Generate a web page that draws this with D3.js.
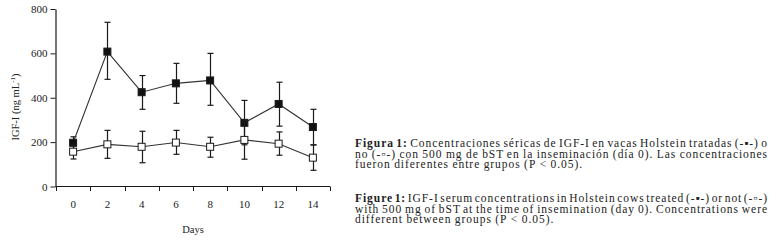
<!DOCTYPE html>
<html>
<head>
<meta charset="utf-8">
<script src="https://cdn.jsdelivr.net/npm/d3@7"></script>
<style>
  body { margin: 0; background: #fff; }
  svg { display: block; font-family: "Liberation Serif", "DejaVu Serif", serif; }
</style>
</head>
<body>
<div id="chart-area"></div>
<script>
// Data
const days = ['0', '2', '4', '6', '8', '10', '12', '14'];
const yTicks = [0, 200, 400, 600, 800];

// bST treated (filled squares)
const treatedMean = [197, 608, 425, 465, 478, 287, 372, 268];
const treatedHi   = [224, 740, 500, 555, 600, 388, 470, 348];
const treatedLo   = [170, 483, 348, 375, 366, 188, 272, 188];

// not treated (open squares)
const controlMean = [157, 190, 179, 198, 179, 210, 193, 130];
const controlHi   = [190, 253, 249, 253, 222, 297, 246, 187];
const controlLo   = [124, 127, 107, 145, 132, 123, 141, 73];

const captionEs = [
    [{ b: 'Figura 1:' }, ' Concentraciones séricas de IGF-I en vacas Holstein tratadas (-▪-) o'],
    ['no (-▫-) con 500 mg de bST en la inseminación (día 0). Las concentraciones'],
    ['fueron diferentes entre grupos (P < 0.05).']
];
const captionEn = [
    [{ b: 'Figure 1:' }, ' IGF-I serum concentrations in Holstein cows treated (-▪-) or not (-▫-)'],
    ['with 500 mg of bST at the time of insemination (day 0). Concentrations were'],
    ['different between groups (P < 0.05).']
];

const W = 773, H = 241;

const svg = d3.select('#chart-area')
    .append('svg')
    .attr('width', W)
    .attr('height', H);

// Scales
const x = d3.scaleBand()
    .domain(days)
    .range([56, 330])
    .padding(0);

const y = d3.scaleLinear()
    .domain([0, 800])
    .range([186.5, 9]);

const ink = '#1a1a1a';

// Y axis
const yAxis = svg.append('g')
    .attr('transform', 'translate(55.5, 0)')
    .call(d3.axisLeft(y).tickValues(yTicks).tickSize(5).tickSizeOuter(0).tickPadding(3));
yAxis.select('.domain').attr('stroke', ink).attr('stroke-width', 1.2);
yAxis.selectAll('.tick line').attr('stroke', ink);
yAxis.selectAll('text')
    .attr('font-family', '"Liberation Serif", serif')
    .attr('font-size', 11)
    .attr('fill', '#222');

// X axis (labels at band centres, ticks on band edges)
const xAxis = svg.append('g')
    .attr('transform', 'translate(0, 186.5)')
    .call(d3.axisBottom(x).tickSize(0).tickPadding(14));
xAxis.select('.domain').remove();
xAxis.selectAll('text')
    .attr('font-family', '"Liberation Serif", serif')
    .attr('font-size', 11)
    .attr('fill', '#222');

svg.append('line')
    .attr('x1', 55.5).attr('x2', x.range()[1])
    .attr('y1', 186.5).attr('y2', 186.5)
    .attr('stroke', ink).attr('stroke-width', 1.2);

const edges = days.map((d) => x(d)).concat([x.range()[1]]);
svg.append('g').selectAll('line')
    .data(edges)
    .enter().append('line')
    .attr('x1', (d) => Math.round(d) + 0.5)
    .attr('x2', (d) => Math.round(d) + 0.5)
    .attr('y1', 186.5)
    .attr('y2', 191)
    .attr('stroke', ink);

// Axis titles
const yLab = svg.append('text')
    .attr('transform', 'translate(19, 107) rotate(-90)')
    .attr('text-anchor', 'middle')
    .attr('font-size', 10.5)
    .attr('fill', '#222');
yLab.append('tspan').text('IGF-I (ng mL');
yLab.append('tspan').attr('font-size', 7).attr('dy', -4).text('-1');
yLab.append('tspan').attr('dy', 4).text(')');

svg.append('text')
    .attr('x', 193)
    .attr('y', 233)
    .attr('text-anchor', 'middle')
    .attr('font-size', 10.5)
    .attr('fill', '#222')
    .text('Days');

// Series
const cx = (i) => x(days[i]) + x.bandwidth() / 2;

const drawSeries = (mean, hi, lo, fill) => {
    const g = svg.append('g');
    const idx = d3.range(mean.length);

    // error bars
    idx.forEach((i) => {
        const xc = Math.round(cx(i)) + 0.5;
        g.append('line')
            .attr('x1', xc).attr('x2', xc)
            .attr('y1', y(hi[i])).attr('y2', y(lo[i]))
            .attr('stroke', ink).attr('stroke-width', 1.2);
        [hi[i], lo[i]].forEach((v) => {
            g.append('line')
                .attr('x1', xc - 3).attr('x2', xc + 3)
                .attr('y1', y(v)).attr('y2', y(v))
                .attr('stroke', ink).attr('stroke-width', 1.2);
        });
    });

    // connecting line
    g.append('path')
        .datum(idx)
        .attr('fill', 'none')
        .attr('stroke', '#333')
        .attr('stroke-width', 1.1)
        .attr('d', d3.line().x((i) => cx(i)).y((i) => y(mean[i])));

    // markers
    g.selectAll('rect')
        .data(idx)
        .enter().append('rect')
        .attr('x', (i) => cx(i) - 3.5)
        .attr('y', (i) => y(mean[i]) - 3.5)
        .attr('width', 7)
        .attr('height', 7)
        .attr('fill', fill)
        .attr('stroke', ink)
        .attr('stroke-width', 1);
};

drawSeries(treatedMean, treatedHi, treatedLo, '#111');
drawSeries(controlMean, controlHi, controlLo, '#fff');

// Caption, justified like the print
const capX = 355, capRight = 768, lineH = 10.5, capSize = 11.5, capLs = 0.95;

const drawCaption = (lines, top) => {
    lines.forEach((parts, li) => {
        const justify = li < lines.length - 1;
        const t = svg.append('text')
            .attr('y', top + li * lineH)
            .attr('font-size', capSize)
            .attr('letter-spacing', capLs)
            .attr('fill', '#222');
        const words = [];
        parts.forEach((p) => {
            const bold = typeof p === 'object';
            const s = bold ? p.b : p;
            s.split(' ').filter((w) => w.length).forEach((w) => words.push({ w, bold }));
        });
        const spans = words.map((wd) => t.append('tspan')
            .attr('font-weight', wd.bold ? 'bold' : null)
            .text(wd.w));
        const widths = spans.map((s) => s.node().getComputedTextLength());
        const total = d3.sum(widths);
        const space = justify
            ? (capRight - capX - total) / (words.length - 1)
            : capSize * 0.3;
        let cur = capX;
        spans.forEach((s, i) => {
            s.attr('x', cur);
            cur += widths[i] + space;
        });
    });
};

drawCaption(captionEs, 147);
drawCaption(captionEn, 202);
</script>
</body>
</html>
